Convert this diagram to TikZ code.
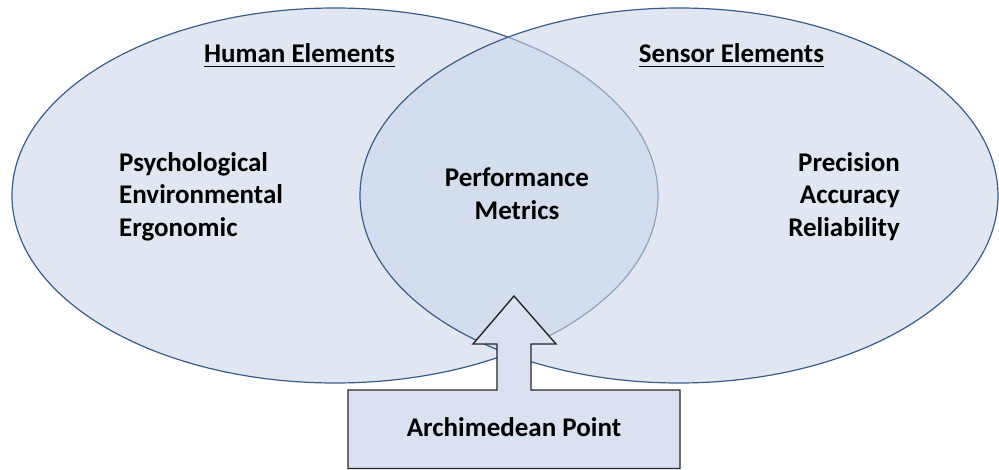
\documentclass[tikz,border=0pt]{standalone}
\usepackage{fontspec}
\setmainfont{Carlito}
\definecolor{setfill}{RGB}{202,214,234}
\definecolor{setline}{RGB}{56,93,138}
\definecolor{boxfill}{RGB}{218,226,242}
\definecolor{boxline}{RGB}{38,38,38}
\begin{document}
\begin{tikzpicture}[x=1pt,y=-1pt,
  setshape/.style={fill=setfill,fill opacity=0.58,draw=setline,line width=1.2pt},
  label/.style={inner sep=0pt,font=\fontsize{27}{32}\selectfont\bfseries},
  heading/.style={label},
  underl/.style={line width=1.5pt,black}]
\useasboundingbox (0,0) rectangle (999,470);

% the two overlapping sets
\draw[setshape] (335,195.5) ellipse [x radius=323, y radius=187.5];
\draw[setshape] (679,195.5) ellipse [x radius=319, y radius=187.5];

% headings
\node[heading,anchor=base] (hum) at (299.5,62.5) {Human Elements};
\node[heading,anchor=base] (sen) at (731.5,62.5) {Sensor Elements};
\draw[underl] ([yshift=-4pt]hum.base west) -- ([yshift=-4pt]hum.base east);
\draw[underl] ([yshift=-4pt]sen.base west) -- ([yshift=-4pt]sen.base east);

% human factors
\node[label,anchor=base west] (psy) at (119,171.5) {Psychological};
\node[label,anchor=base west] (env) at (119,204) {Environmental};
\node[label,anchor=base west] (erg) at (119,236.5) {Ergonomic};

% shared region
\node[label,anchor=base] (perf) at (517,187) {Performance};
\node[label,anchor=base] (met) at (517,219.5) {Metrics};

% sensor factors
\node[label,anchor=base east] (pre) at (900,171.5) {Precision};
\node[label,anchor=base east] (acc) at (900,204) {Accuracy};
\node[label,anchor=base east] (rel) at (900,236.5) {Reliability};

% up-arrow callout
\draw[fill=boxfill,draw=boxline,line width=1.4pt,line join=miter]
  (348,390) -- (497,390) -- (497,344) -- (473,344) -- (514,296)
  -- (556,344) -- (531,344) -- (531,390) -- (680,390)
  -- (680,468.5) -- (348,468.5) -- cycle;
\node[label,anchor=base] (ap) at (514,436.7) {Archimedean Point};
\end{tikzpicture}
\end{document}
